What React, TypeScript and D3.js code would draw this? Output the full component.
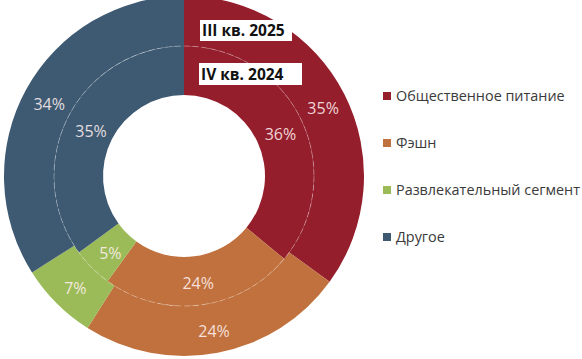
import * as d3 from "d3";
import { useEffect, useRef } from "react";

const categories = ["Общественное питание", "Фэшн", "Развлекательный сегмент", "Другое"];
const colors = ["#951e2d", "#c0713d", "#9bbb59", "#3e5a72"];
const outerValues = [35, 24, 7, 34]; // III кв. 2025
const innerValues = [36, 24, 5, 35]; // IV кв. 2024
const ringLabels = ["III кв. 2025", "IV кв. 2024"];

export default function App() {
  const ref = useRef<SVGSVGElement>(null);

  useEffect(() => {
    const width = 582;
    const height = 359;
    const cx = 184;
    const cy = 176;
    const rHole = 81;
    const rMid = 130;
    const rOuter = 180;

    const svg = d3.select(ref.current);
    svg.selectAll("*").remove();

    svg.append("rect").attr("width", width).attr("height", height).attr("fill", "#fff");

    const g = svg.append("g").attr("transform", `translate(${cx},${cy})`);
    const pie = d3.pie<number>().sort(null).value((d) => d);

    const rings = [
      { values: outerValues, r0: rMid, r1: rOuter },
      { values: innerValues, r0: rHole, r1: rMid },
    ];

    rings.forEach((ring) => {
      const arc = d3.arc<d3.PieArcDatum<number>>().innerRadius(ring.r0).outerRadius(ring.r1);
      g.append("g")
        .selectAll("path")
        .data(pie(ring.values))
        .join("path")
        .attr("d", arc)
        .attr("fill", (_, i) => colors[i]);
    });

    // thin dashed divider between rings
    g.append("circle")
      .attr("r", rMid)
      .attr("fill", "none")
      .attr("stroke", "rgba(255,255,255,0.3)")
      .attr("stroke-width", 1)
      .attr("stroke-dasharray", "6,3");

    rings.forEach((ring) => {
      const arc = d3.arc<d3.PieArcDatum<number>>().innerRadius(ring.r0).outerRadius(ring.r1);
      g.append("g")
        .selectAll("text")
        .data(pie(ring.values))
        .join("text")
        .attr("transform", (d) => {
          const [x, y] = arc.centroid(d);
          return `translate(${x + 1},${y + 3})`;
        })
        .attr("text-anchor", "middle")
        .attr("dy", "0.35em")
        .attr("fill", "rgba(255,240,240,0.88)")
        .style("font-family", "'Open Sans', sans-serif")
        .style("font-size", "16px")
        .text((d) => `${d.data}%`);
    });

    // ring name boxes
    const boxes = [
      { label: ringLabels[0], x: 200, y: 20, w: 92, h: 21 },
      { label: ringLabels[1], x: 199, y: 63, w: 103, h: 22 },
    ];
    boxes.forEach((b) => {
      svg.append("rect").attr("x", b.x).attr("y", b.y).attr("width", b.w).attr("height", b.h).attr("fill", "#fff");
      svg.append("text")
        .attr("x", b.x + 2)
        .attr("y", b.y + b.h / 2)
        .attr("dy", "0.36em")
        .attr("fill", "#111")
        .style("font-family", "'Open Sans', sans-serif")
        .style("font-weight", "bold")
        .style("font-size", "15.5px")
        .text(b.label);
    });

    // legend
    const legend = svg.append("g").attr("transform", "translate(383,96)");
    const item = legend
      .selectAll("g")
      .data(categories)
      .join("g")
      .attr("transform", (_, i) => `translate(0,${i * 47})`);
    item.append("rect").attr("x", 0).attr("y", -4).attr("width", 8).attr("height", 8).attr("fill", (_, i) => colors[i]);
    item.append("text")
      .attr("x", 13)
      .attr("dy", "0.35em")
      .attr("fill", "#3a3a3a")
      .style("font-family", "'Open Sans', sans-serif")
      .style("font-size", "14.4px")
      .text((d) => d);
  }, []);

  return (
    <svg
      ref={ref}
      width={582}
      height={359}
      style={{ position: "absolute", left: 0, top: 0, display: "block" }}
    />
  );
}
